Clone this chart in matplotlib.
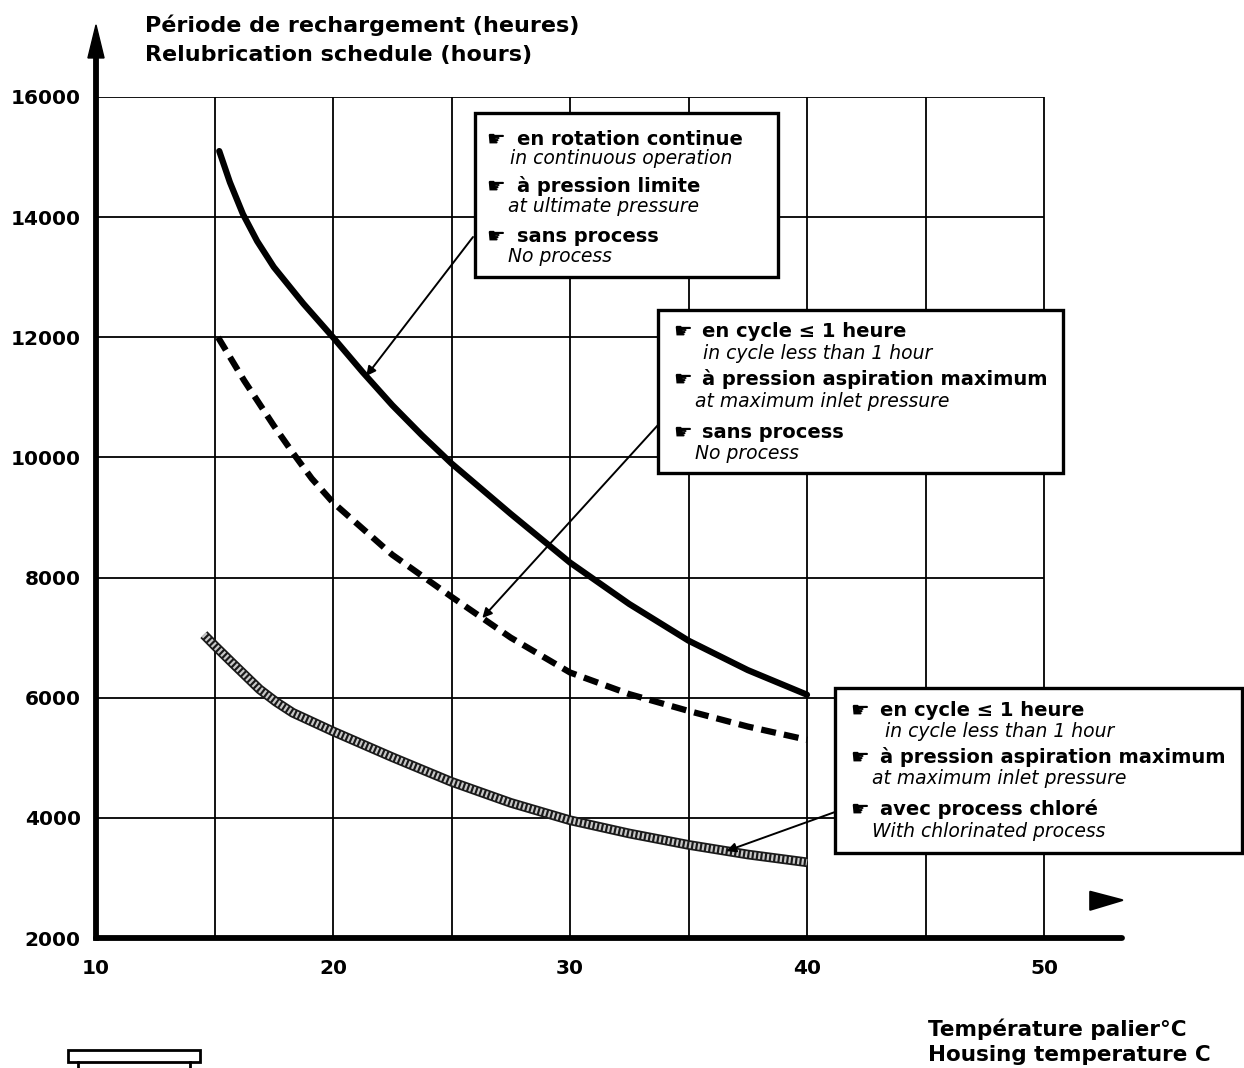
import numpy as np
import matplotlib
matplotlib.use("Agg")
import matplotlib.pyplot as plt
import matplotlib.patches as patches
from matplotlib.lines import Line2D

# Values (temperature in C, hours)
solid_T = [15.2, 15.65, 16.2, 16.8, 17.5, 18.75, 20, 21.25, 22.5, 23.75, 25, 27.5, 30, 32.5, 35, 37.5, 40]
solid_H = [15100, 14580, 14050, 13600, 13170, 12560, 12000, 11420, 10870, 10370, 9900, 9060,
           8250, 7560, 6950, 6460, 6050]

dashed_T = [15.15, 16.25, 17.5, 18.3, 19.1, 20, 22.5, 25, 27.5, 30, 32.5, 35, 37.5, 40]
dashed_H = [12000, 11280, 10530, 10080, 9650, 9250, 8380, 7680, 7000, 6420, 6060, 5780, 5520, 5300]

hatched_T = [14.55, 15, 15.8, 16.9, 17.6, 18.3, 20, 22.5, 25, 27.5, 30, 32.5, 35, 37.5, 40]
hatched_H = [7050, 6870, 6560, 6140, 5930, 5750, 5440, 5010, 4600, 4250, 3960, 3740, 3550, 3390, 3260]

x_ticks = [10, 20, 30, 40, 50]
y_ticks = [2000, 4000, 6000, 8000, 10000, 12000, 14000, 16000]

title_lines = ["Période de rechargement (heures)", "Relubrication schedule (hours)"]
xlabel_lines = ["Température palier°C", "Housing temperature C"]

box1_lines = [("en rotation continue", "in continuous operation"),
              ("à pression limite", "at ultimate pressure"),
              ("sans process", "No process")]
box2_lines = [("en cycle ≤ 1 heure", "in cycle less than 1 hour"),
              ("à pression aspiration maximum", "at maximum inlet pressure"),
              ("sans process", "No process")]
box3_lines = [("en cycle ≤ 1 heure", "in cycle less than 1 hour"),
              ("à pression aspiration maximum", "at maximum inlet pressure"),
              ("avec process chloré", "With chlorinated process")]

W, H = 1244, 1068
plt.rcParams['font.family'] = ['DejaVu Sans']

fig = plt.figure(figsize=(W / 100, H / 100), dpi=100)


def fxy(px, py):
    # pixel position (from top-left) to figure fraction
    return px / W, 1 - py / H


ax = fig.add_axes([96 / W, (H - 938) / H, (1125 - 96) / W, (938 - 97) / H])
ax.set_xlim(10, 10 + (1125 - 96) / 23.7)
ax.set_ylim(2000, 16000)
for s in ax.spines.values():
    s.set_visible(False)

# grid
ax.vlines([15, 20, 25, 30, 35, 40, 45, 50], 2000, 16000, color='black', lw=1.3, zorder=1)
ax.hlines(y_ticks[1:], 10, 50, color='black', lw=1.3, zorder=1)

# axes with arrows
ax.plot([10, 10], [2000, 16700], color='black', lw=4.2, clip_on=False, zorder=3)
ax.plot([10, 53.3], [2000, 2000], color='black', lw=4.2, solid_capstyle='round',
        clip_on=False, zorder=3)
ax.add_patch(patches.Polygon([(9.66, 16650), (10.34, 16650), (10, 17200)], closed=True,
                             color='black', clip_on=False, zorder=3))
ax.add_patch(patches.Polygon([(51.95, 2770), (51.95, 2470), (53.3, 2630)], closed=True,
                             facecolor='black', edgecolor='black', lw=1.5,
                             joinstyle='round', clip_on=False, zorder=3))

# ticks
ax.set_xticks(x_ticks)
ax.set_xticklabels([str(t) for t in x_ticks], fontsize=14.5, fontweight='bold')
ax.set_yticks(y_ticks)
ax.set_yticklabels([str(t) for t in y_ticks], fontsize=14.5, fontweight='bold')
ax.tick_params(axis='x', length=0, pad=15)
ax.tick_params(axis='y', length=0, pad=11)

# curves
ax.plot(solid_T, solid_H, color='black', lw=4.5, solid_capstyle='round',
        solid_joinstyle='round', zorder=4)
ax.plot(dashed_T, dashed_H, color='black', lw=4.5, linestyle=(0, (2.4, 1.3)), zorder=4)
ax.plot(hatched_T, hatched_H, color='#1a1a1a', lw=7, solid_capstyle='butt',
        solid_joinstyle='round', zorder=4)
ax.plot(hatched_T, hatched_H, color='#c8c8c8', lw=4.5, linestyle=(0, (0.35, 0.35)), zorder=5)

# titles
for i, t in enumerate(title_lines):
    fig.text(*fxy(145, 32 + 29 * i), t, fontsize=16, fontweight='bold', va='baseline')
for i, t in enumerate(xlabel_lines):
    fig.text(*fxy(928, 1036 + 25 * i), t, fontsize=15.5, fontweight='bold', va='baseline')


def draw_box(x0, y0, x1, y1, lines, bullet_x, text_x, italic_x, baselines):
    rect = patches.Rectangle(fxy(x0, y1), (x1 - x0) / W, (y1 - y0) / H,
                             transform=fig.transFigure, facecolor='white',
                             edgecolor='black', lw=2.4, zorder=6)
    fig.add_artist(rect)
    for (bold, ital), (b1, b2), ix in zip(lines, baselines, italic_x):
        fig.text(*fxy(bullet_x - 2, b1 + 1), "☛", fontsize=15, va='baseline', zorder=7)
        fig.text(*fxy(text_x, b1), bold, fontsize=14, fontweight='bold',
                 va='baseline', zorder=7)
        fig.text(*fxy(ix, b2), ital, fontsize=13.5, style='italic',
                 va='baseline', zorder=7)


draw_box(475, 113, 778, 277, box1_lines, 488, 517, [510, 508, 508],
         [(145, 164), (192, 212), (242, 262)])
draw_box(658, 310, 1063, 473, box2_lines, 675, 702, [703, 695, 695],
         [(337, 359), (385, 407), (438, 459)])
draw_box(835, 688, 1242, 853, box3_lines, 852, 880, [885, 872, 872],
         [(716, 737), (763, 784), (815, 837)])

# leader arrows from boxes to curves
leaders = [(solid_T, solid_H, 21.4, (473, 237)),
           (dashed_T, dashed_H, 26.3, (658, 425)),
           (hatched_T, hatched_H, 36.6, (835, 812))]
for cT, cH, t, start in leaders:
    ax.annotate('', xy=(t, np.interp(t, cT, cH)), xycoords='data',
                xytext=fxy(*start), textcoords='figure fraction',
                arrowprops=dict(arrowstyle='-|>', color='black', lw=1.4,
                                mutation_scale=14, shrinkA=0, shrinkB=0),
                zorder=8)

# small housing symbol in the corner
fig.add_artist(patches.Rectangle(fxy(68, 1062), 132 / W, 12 / H, transform=fig.transFigure,
                                 facecolor='white', edgecolor='black', lw=2))
for lx in (78, 190):
    fig.add_artist(Line2D([lx / W, lx / W], [1 - 1062 / H, 0], transform=fig.transFigure,
                          color='black', lw=2))

fig.savefig("out.png", dpi=100)
